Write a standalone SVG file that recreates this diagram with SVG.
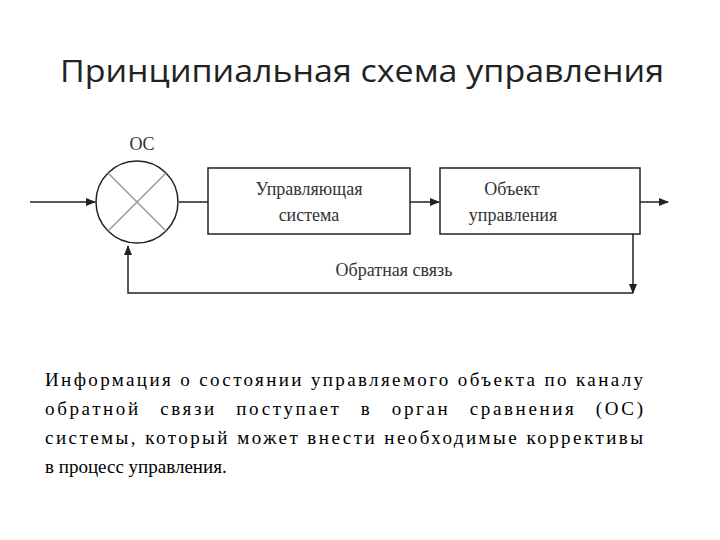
<svg xmlns="http://www.w3.org/2000/svg" width="720" height="540" viewBox="0 0 720 540">
<style>
.d{font-family:"Liberation Serif",serif;font-size:18px;fill:#333}
.p{font-family:"Liberation Serif",serif;font-size:19px;fill:#000}
.l{stroke:#222;stroke-width:1.5;fill:none}
.b{stroke:#222;stroke-width:1.5;fill:#fff}
</style>
<defs><marker id="a" markerWidth="10" markerHeight="8" refX="9" refY="4" orient="auto" markerUnits="userSpaceOnUse"><path d="M0,0L10,4L0,8z" fill="#222"/></marker></defs>
<rect width="720" height="540" fill="#fff"/>
<text x="362" y="82" text-anchor="middle" font-family="Open Sans,sans-serif" font-size="31" fill="#222" textLength="604" lengthAdjust="spacingAndGlyphs">Принципиальная схема управления</text>
<g id="connectors">
<path class="l" d="M30,202H95" marker-end="url(#a)"/>
<path class="l" d="M179,202H208"/>
<path class="l" d="M410,202H439" marker-end="url(#a)"/>
<path class="l" d="M640,202H668" marker-end="url(#a)"/>
<path class="l" d="M633,202V293" marker-end="url(#a)"/>
<path class="l" d="M633,293H128V246" marker-end="url(#a)"/>
</g>
<g id="os">
<circle class="b" cx="137" cy="202" r="41"/>
<path d="M108,173L166,231M166,173L108,231" stroke="#999" stroke-width="1.5"/>
<text class="d" x="142" y="150" text-anchor="middle">ОС</text>
</g>
<g id="ctrl"><rect class="b" x="208" y="168" width="202" height="66"/>
<text class="d" x="309" y="195" text-anchor="middle">Управляющая</text>
<text class="d" x="309" y="221" text-anchor="middle">система</text></g>
<g id="obj"><rect class="b" x="440" y="168" width="200" height="66"/>
<text class="d" x="512" y="195" text-anchor="middle">Объект</text>
<text class="d" x="513" y="221" text-anchor="middle">управления</text></g>
<text class="d" x="394" y="276" text-anchor="middle">Обратная связь</text>
<text class="p" x="45" y="386" textLength="598" lengthAdjust="spacing">Информация о состоянии управляемого объекта по каналу</text>
<text class="p" x="45" y="415" textLength="598" lengthAdjust="spacing" word-spacing="12">обратной связи поступает в орган сравнения (ОС)</text>
<text class="p" x="45" y="444" textLength="598" lengthAdjust="spacing">системы, который может внести необходимые коррективы</text>
<text class="p" x="45" y="473">в процесс управления.</text>
</svg>
